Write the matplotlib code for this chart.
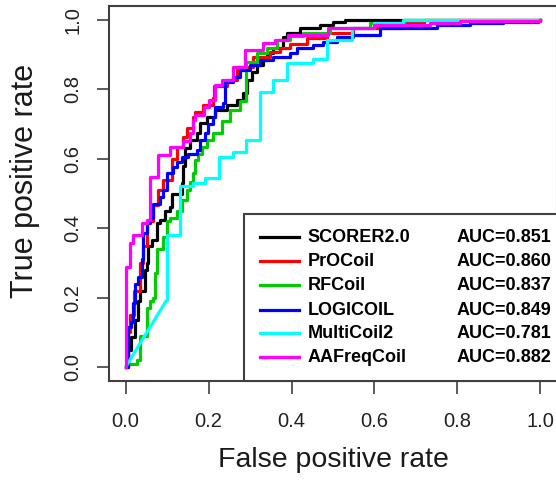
import numpy as np
import matplotlib
matplotlib.use("Agg")
import matplotlib.pyplot as plt
from matplotlib.patches import Rectangle

plt.rcParams['font.family'] = ['Liberation Sans', 'DejaVu Sans']

# methods, AUC values and R-style colours
methods = ["SCORER2.0", "PrOCoil", "RFCoil", "LOGICOIL", "MultiCoil2", "AAFreqCoil"]
auc = ["0.851", "0.860", "0.837", "0.849", "0.781", "0.882"]
colors = ["#000000", "#ff0000", "#00cd00", "#0000ff", "#00ffff", "#ff00ff"]

# ROC step points (fpr where the curve rises, tpr after the rise)
fpr_scorer = [0, 0.005, 0.014, 0.022, 0.029, 0.034, 0.046, 0.051, 0.053, 0.063, 0.075, 0.082, 0.094,
              0.106, 0.111, 0.135, 0.138, 0.143, 0.155, 0.171, 0.179, 0.196, 0.215, 0.244, 0.268,
              0.283, 0.292, 0.304, 0.316, 0.331, 0.341, 0.355, 0.379, 0.389, 0.420, 0.469, 0.500,
              0.530, 1.0]
tpr_scorer = [0, 0.05, 0.087, 0.135, 0.19, 0.22, 0.28, 0.30, 0.35, 0.366, 0.415, 0.424, 0.45,
              0.46, 0.50, 0.53, 0.58, 0.63, 0.654, 0.674, 0.703, 0.72, 0.74, 0.755, 0.77,
              0.79, 0.827, 0.85, 0.87, 0.885, 0.905, 0.92, 0.95, 0.963, 0.977, 0.986, 0.994,
              1.0, 1.0]

fpr_procoil = [0, 0.005, 0.010, 0.020, 0.034, 0.043, 0.051, 0.065, 0.077, 0.090, 0.113, 0.123,
               0.138, 0.148, 0.162, 0.167, 0.186, 0.210, 0.213, 0.244, 0.268, 0.307, 0.348,
               0.372, 0.396, 0.437, 0.486, 0.548, 0.670, 0.720, 1.0]
tpr_procoil = [0, 0.10, 0.15, 0.22, 0.30, 0.35, 0.42, 0.467, 0.51, 0.54, 0.60, 0.634,
               0.663, 0.69, 0.72, 0.735, 0.755, 0.775, 0.81, 0.827, 0.865, 0.893, 0.908,
               0.92, 0.93, 0.948, 0.963, 0.977, 0.99, 1.0, 1.0]

fpr_rfcoil = [0, 0.005, 0.027, 0.034, 0.051, 0.058, 0.065, 0.070, 0.075, 0.089, 0.099, 0.106,
              0.123, 0.135, 0.147, 0.155, 0.162, 0.167, 0.174, 0.184, 0.196, 0.210, 0.232,
              0.251, 0.275, 0.290, 0.316, 0.341, 0.365, 0.396, 0.428, 0.493, 0.590, 0.670, 1.0]
tpr_rfcoil = [0, 0.01, 0.02, 0.09, 0.17, 0.19, 0.20, 0.27, 0.34, 0.375, 0.42, 0.43,
              0.45, 0.48, 0.51, 0.533, 0.56, 0.597, 0.615, 0.634, 0.655, 0.674, 0.71,
              0.74, 0.765, 0.88, 0.905, 0.92, 0.942, 0.955, 0.963, 0.977, 0.99, 1.0, 1.0]

fpr_logicoil = [0, 0.005, 0.014, 0.017, 0.022, 0.029, 0.039, 0.041, 0.051, 0.058, 0.065, 0.082,
                0.089, 0.099, 0.114, 0.123, 0.135, 0.150, 0.171, 0.179, 0.191, 0.198, 0.210,
                0.215, 0.234, 0.239, 0.258, 0.275, 0.300, 0.324, 0.355, 0.396, 0.413, 0.452,
                0.476, 0.510, 0.548, 0.614, 0.751, 0.831, 0.911, 0.993, 1.0]
tpr_logicoil = [0, 0.115, 0.13, 0.185, 0.24, 0.26, 0.31, 0.386, 0.415, 0.43, 0.47, 0.49,
                0.51, 0.56, 0.575, 0.59, 0.605, 0.615, 0.625, 0.654, 0.674, 0.70, 0.72,
                0.75, 0.76, 0.82, 0.835, 0.856, 0.87, 0.885, 0.893, 0.905, 0.92, 0.928,
                0.937, 0.95, 0.957, 0.977, 0.985, 0.991, 0.994, 0.997, 1.0]

# MultiCoil2 starts with a tied block (straight diagonal from the first to the second point)
fpr_multicoil = [0, 0.099, 0.099, 0.130, 0.162, 0.191, 0.225, 0.259, 0.290, 0.324, 0.355, 0.389,
                 0.452, 0.486, 0.546, 0.600, 0.669, 1.0]
tpr_multicoil = [0, 0.193, 0.38, 0.522, 0.53, 0.545, 0.606, 0.620, 0.654, 0.793, 0.827, 0.876,
                 0.888, 0.942, 0.977, 0.99, 1.0, 1.0]

fpr_aafreq = [0, 0, 0.010, 0.017, 0.040, 0.051, 0.058, 0.077, 0.106, 0.138, 0.155, 0.162, 0.167,
              0.190, 0.200, 0.215, 0.232, 0.258, 0.287, 0.331, 0.360, 0.391, 0.488, 0.600,
              0.734, 0.807, 1.0]
tpr_aafreq = [0, 0.288, 0.357, 0.380, 0.415, 0.425, 0.548, 0.611, 0.634, 0.650, 0.674, 0.712, 0.726,
              0.750, 0.770, 0.813, 0.827, 0.865, 0.914, 0.934, 0.942, 0.957, 0.977, 0.985,
              0.991, 0.997, 1.0]

curves = [(fpr_scorer, tpr_scorer), (fpr_procoil, tpr_procoil), (fpr_rfcoil, tpr_rfcoil),
          (fpr_logicoil, tpr_logicoil), (fpr_multicoil, tpr_multicoil), (fpr_aafreq, tpr_aafreq)]

fig = plt.figure(figsize=(5.56, 4.8), dpi=100)
ax = fig.add_axes([109 / 556, 99 / 480, 448 / 556, 375 / 480])

lw = 2.3
for name, (x, y), c in zip(methods, curves, colors):
    if name == "MultiCoil2":
        ax.plot(x[:2], y[:2], color=c, lw=lw, solid_capstyle='butt')
        ax.plot(x[1:], y[1:], color=c, lw=lw, drawstyle='steps-post')
    else:
        ax.plot(x, y, color=c, lw=lw, drawstyle='steps-post')

ax.set_xlim(-0.04, 1.04)
ax.set_ylim(-0.04, 1.04)
ticks = np.arange(0, 1.01, 0.2)
tick_labels = ["0.0", "0.2", "0.4", "0.6", "0.8", "1.0"]
ax.set_xticks(ticks)
ax.set_yticks(ticks)
ax.set_xticklabels(tick_labels)
ax.set_yticklabels(tick_labels, rotation=90, va='center')

for sp in ax.spines.values():
    sp.set_color("#404040")
    sp.set_linewidth(1.5)
ax.tick_params(axis='both', direction='out', length=9, width=1.2, color="#404040",
               labelsize=14.5, labelcolor="#222222")
ax.tick_params(axis='x', pad=13)
ax.tick_params(axis='y', pad=10)

ax.set_xlabel("False positive rate", fontsize=20.5, color="#1a1a1a")
ax.set_ylabel("True positive rate", fontsize=22, color="#1a1a1a")
ax.xaxis.set_label_coords(0.5, -0.176)
ax.yaxis.set_label_coords(-0.155, 0.533)

# legend box in the lower right corner, R style
box = Rectangle((0.301, 0), 0.75, 0.445, transform=ax.transAxes, facecolor="white",
                edgecolor="#404040", lw=1.5, zorder=5, clip_on=False)
ax.add_patch(box)
row_y = [0.384, 0.320, 0.256, 0.189, 0.128, 0.064]
for name, a, c, yy in zip(methods, auc, colors, row_y):
    ax.plot([0.337, 0.424], [yy, yy], color=c, lw=2.3, transform=ax.transAxes, zorder=6,
            clip_on=False)
    ax.text(0.444, yy, name, transform=ax.transAxes, fontsize=13, fontweight='bold',
            va='center', ha='left', zorder=7)
    ax.text(0.776, yy, "AUC=" + a, transform=ax.transAxes, fontsize=13, fontweight='bold',
            va='center', ha='left', zorder=7)

fig.savefig("out.png", dpi=100)
